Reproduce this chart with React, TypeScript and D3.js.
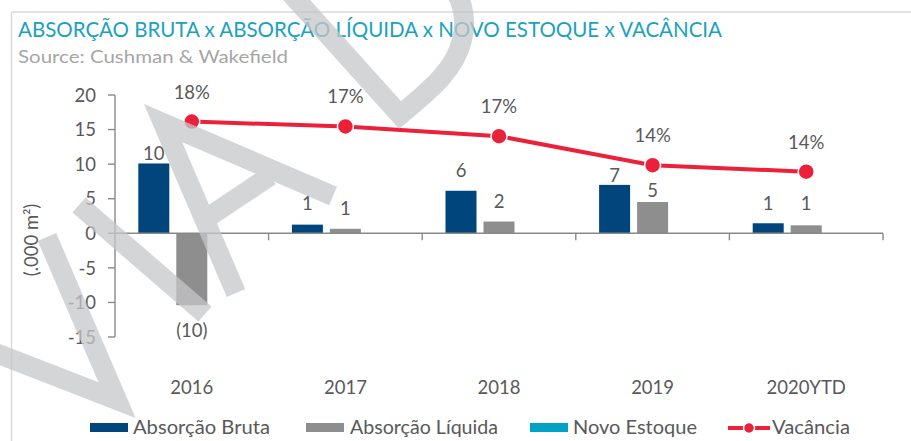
import React from "react";
import * as d3 from "d3";

const categories = ["2016", "2017", "2018", "2019", "2020YTD"];
const absorcaoBruta = [10.1, 1.25, 6.15, 7.0, 1.45];
const absorcaoLiquida = [-10.4, 0.65, 1.7, 4.52, 1.15];
const novoEstoque = [0, 0, 0, 0, 0];
const vacancia = [0.178, 0.174, 0.166, 0.142, 0.1366];
const yTicks = [20, 15, 10, 5, 0, -5, -10, -15];

const seriesNames = ["Absorção Bruta", "Absorção Líquida", "Novo Estoque", "Vacância"];

// layout-only nudges for data labels (px away from bar end)
const labelGapBruta = [3, 14.5, 13.5, 3, 13];
const labelGapLiquida = [32, 14, 14, 5, 15];

const W = 911;
const H = 441;
const FONT = "Lato, 'Open Sans', sans-serif";
const TXT = "#595959";
const C_BRUTA = "#00457B";
const C_LIQ = "#8E8E8E";
const C_NOVO = "#00A3C4";
const C_VAC = "#EC2139";

// decorative watermark strokes
const WATERMARK = [
  "M -30 343 L 117 400 L 47 237",
  "M 79 205 L 205 314",
  "M 236 293 L 163 123 L 333 196",
  "M 204 220 L 270 176",
  "M 240 -63 L 400 115 C 430 90 455 70 462 40 C 468 15 460 -5 450 -15",
];

export default function App() {
  const x = d3.scaleBand<string>().domain(categories).range([115, 883]).padding(0);
  const y = d3.scaleLinear().domain([-15, 20]).range([337, 95]);
  const y2 = d3.scaleLinear().domain([0, 0.2]).range([337, 95]);
  const bw = x.bandwidth();
  const groupW = 107;
  const inner = d3
    .scaleBand<string>()
    .domain(seriesNames.slice(0, 3))
    .range([(bw - groupW) / 2, (bw + groupW) / 2])
    .paddingInner(7 / 38)
    .paddingOuter(0);
  const barW = inner.bandwidth();

  const fmtNum = (v: number) => {
    const r = Math.round(Math.abs(v));
    return v < 0 ? `(${r})` : `${r}`;
  };
  const fmtPct = d3.format(".0%");

  const line = d3
    .line<number>()
    .x((_, i) => (x(categories[i]) as number) + bw / 2)
    .y((d) => y2(d));

  const barSeries = [
    { name: seriesNames[0], values: absorcaoBruta, color: C_BRUTA, gaps: labelGapBruta, label: true },
    { name: seriesNames[1], values: absorcaoLiquida, color: C_LIQ, gaps: labelGapLiquida, label: true },
    { name: seriesNames[2], values: novoEstoque, color: C_NOVO, gaps: [0, 0, 0, 0, 0], label: false },
  ];

  const boundaries = [...categories.map((c) => x(c) as number), 883];

  return (
    <svg
      width={W}
      height={H}
      style={{ position: "absolute", left: 0, top: 0, background: "#fff" }}
      fontFamily={FONT}
    >
      <rect x={0} y={0} width={W} height={H} fill="#fff" />
      {/* frame */}
      <line x1={11.5} y1={12} x2={W} y2={12} stroke="#d9d9d9" strokeWidth={1.5} />
      <line x1={11.5} y1={12} x2={11.5} y2={H} stroke="#d9d9d9" strokeWidth={1.5} />

      {/* title */}
      <text x={18} y={37} fill="#1BA1BF" fontSize={20.5} textLength={704} lengthAdjust="spacingAndGlyphs">
        ABSORÇÃO BRUTA x ABSORÇÃO LÍQUIDA x NOVO ESTOQUE x VACÂNCIA
      </text>
      <text x={18} y={63} fill="#a6a6a6" fontSize={18} textLength={270} lengthAdjust="spacingAndGlyphs">
        Source: Cushman &amp; Wakefield
      </text>

      {/* y axis */}
      <line x1={115} y1={y(20)} x2={115} y2={y(-15)} stroke="#898989" strokeWidth={1.4} />
      {yTicks.map((t) => (
        <g key={t}>
          <line x1={108} x2={115} y1={y(t)} y2={y(t)} stroke="#898989" strokeWidth={1.4} />
          <text x={96} y={y(t)} dy="0.36em" textAnchor="end" fill={TXT} fontSize={18.5}>
            {t}
          </text>
        </g>
      ))}
      <text
        transform={`translate(38,240) rotate(-90)`}
        textAnchor="middle"
        fill={TXT}
        fontSize={18.5}
      >
        (.000 m²)
      </text>

      {/* bars */}
      {barSeries.map((s) =>
        s.values.map((v, i) => {
          const bx = (x(categories[i]) as number) + (inner(s.name) as number);
          const top = y(Math.max(0, v));
          const h = Math.abs(y(v) - y(0));
          return (
            <g key={s.name + i}>
              <rect x={bx} y={top} width={barW} height={h} fill={s.color} />
              {s.label && (
                <text
                  x={bx + barW / 2}
                  y={v >= 0 ? y(v) - s.gaps[i] : y(v) + s.gaps[i]}
                  textAnchor="middle"
                  fill={TXT}
                  fontSize={18.5}
                >
                  {fmtNum(v)}
                </text>
              )}
            </g>
          );
        })
      )}

      {/* x axis */}
      <line x1={115} x2={883} y1={y(0)} y2={y(0)} stroke="#898989" strokeWidth={1.4} />
      {boundaries.slice(1).map((b, i) => (
        <line key={i} x1={b} x2={b} y1={y(0)} y2={y(0) + 7} stroke="#898989" strokeWidth={1.4} />
      ))}
      {categories.map((c) => (
        <text key={c} x={(x(c) as number) + bw / 2} y={394} textAnchor="middle" fill={TXT} fontSize={18.5}>
          {c}
        </text>
      ))}

      {/* vacancia line */}
      <path d={line(vacancia) || ""} fill="none" stroke={C_VAC} strokeWidth={4} />
      {vacancia.map((v, i) => {
        const cx = (x(categories[i]) as number) + bw / 2;
        return (
          <g key={i}>
            <circle cx={cx} cy={y2(v)} r={8} fill={C_VAC} stroke="#fff" strokeWidth={1.5} />
            <text x={cx} y={y2(v) - 23} textAnchor="middle" fill={TXT} fontSize={18.5}>
              {fmtPct(v)}
            </text>
          </g>
        );
      })}

      {/* legend */}
      <g>
        <rect x={90} y={423} width={38} height={9} fill={C_BRUTA} />
        <text x={133} y={434} fill={TXT} fontSize={18.5} textLength={137} lengthAdjust="spacingAndGlyphs">
          {seriesNames[0]}
        </text>
        <rect x={306} y={423} width={38} height={9} fill={C_LIQ} />
        <text x={350} y={434} fill={TXT} fontSize={18.5} textLength={148} lengthAdjust="spacingAndGlyphs">
          {seriesNames[1]}
        </text>
        <rect x={530} y={423} width={38} height={9} fill={C_NOVO} />
        <text x={573} y={434} fill={TXT} fontSize={18.5} textLength={124} lengthAdjust="spacingAndGlyphs">
          {seriesNames[2]}
        </text>
        <line x1={728} x2={770} y1={428} y2={428} stroke={C_VAC} strokeWidth={4} />
        <circle cx={749} cy={428} r={5.5} fill={C_VAC} stroke="#fff" strokeWidth={1.5} />
        <text x={772} y={434} fill={TXT} fontSize={18.5} textLength={78} lengthAdjust="spacingAndGlyphs">
          {seriesNames[3]}
        </text>
      </g>

      {/* watermark */}
      <g opacity={0.75} fill="none" stroke="#c6c7c9" strokeWidth={20} strokeLinejoin="miter">
        {WATERMARK.map((d, i) => (
          <path key={i} d={d} />
        ))}
      </g>
    </svg>
  );
}
